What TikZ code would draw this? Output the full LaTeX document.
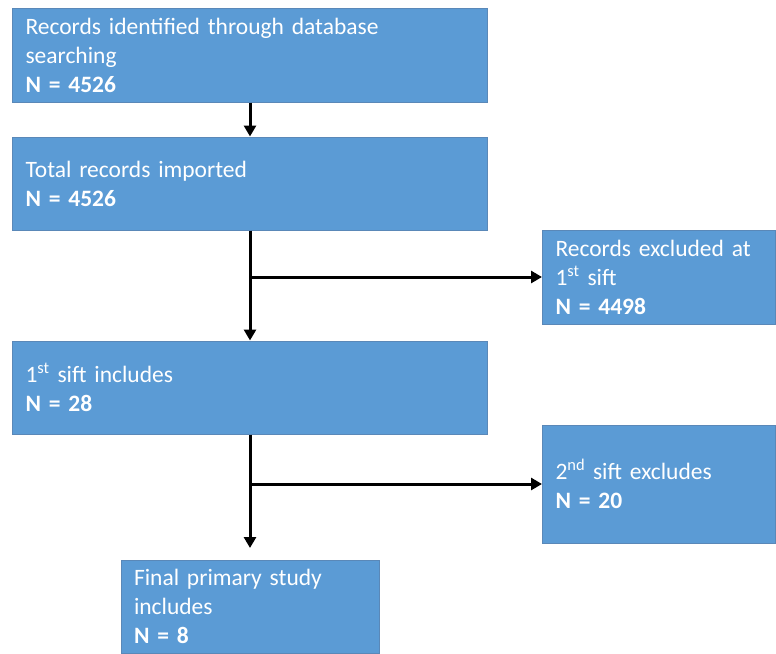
\documentclass[tikz,border=0pt]{standalone}
\usepackage{fontspec}
\setmainfont{Carlito}
\usepackage{xcolor}
\usetikzlibrary{arrows.meta}
\definecolor{boxfill}{HTML}{5B9BD5}
\definecolor{boxline}{HTML}{5A88B8}

\begin{document}
\begin{tikzpicture}[x=1pt,y=-1pt,
    stagebox/.style={rectangle,draw=boxline,line width=1pt,fill=boxfill,
      text=white,align=left,inner xsep=13pt,inner ysep=0pt,
      font=\fontsize{23.5}{29}\selectfont},
    arr/.style={-{Triangle[length=11pt,width=12pt]},line width=3pt,black}]
  \useasboundingbox (0,0) rectangle (776,653);

  \node (rec) [stagebox,minimum width=475pt,minimum height=94pt,text width=449pt]
    at (250,55) {Records identified through database\\searching\\\textbf{N = 4526}};
  \node (tot) [stagebox,minimum width=475pt,minimum height=93pt,text width=449pt]
    at (250,183.5) {Total records imported\\\textbf{N = 4526}};
  \node (exc1) [stagebox,minimum width=233pt,minimum height=94pt,text width=207pt]
    at (659,277) {Records excluded at\\1\textsuperscript{st} sift\\\textbf{N = 4498}};
  \node (sift1) [stagebox,minimum width=475pt,minimum height=93pt,text width=449pt]
    at (250,387.5) {1\textsuperscript{st} sift includes\\\textbf{N = 28}};
  \node (exc2) [stagebox,minimum width=233pt,minimum height=118pt,text width=207pt]
    at (659,484) {2\textsuperscript{nd} sift excludes\\\textbf{N = 20}};
  \node (fin) [stagebox,minimum width=258pt,minimum height=93pt,text width=232pt]
    at (250,606.5) {Final primary study\\includes\\\textbf{N = 8}};
  \coordinate (finin) at (250,548);

  % main flow
  \draw [arr] (rec) -- (tot);
  \draw [arr] (tot) -- (sift1);
  \draw [arr] (sift1) -- (finin);
  % exclusions
  \draw [arr] (tot.south |- exc1.west) -- (exc1.west);
  \draw [arr] (sift1.south |- exc2.west) -- (exc2.west);
\end{tikzpicture}
\end{document}
